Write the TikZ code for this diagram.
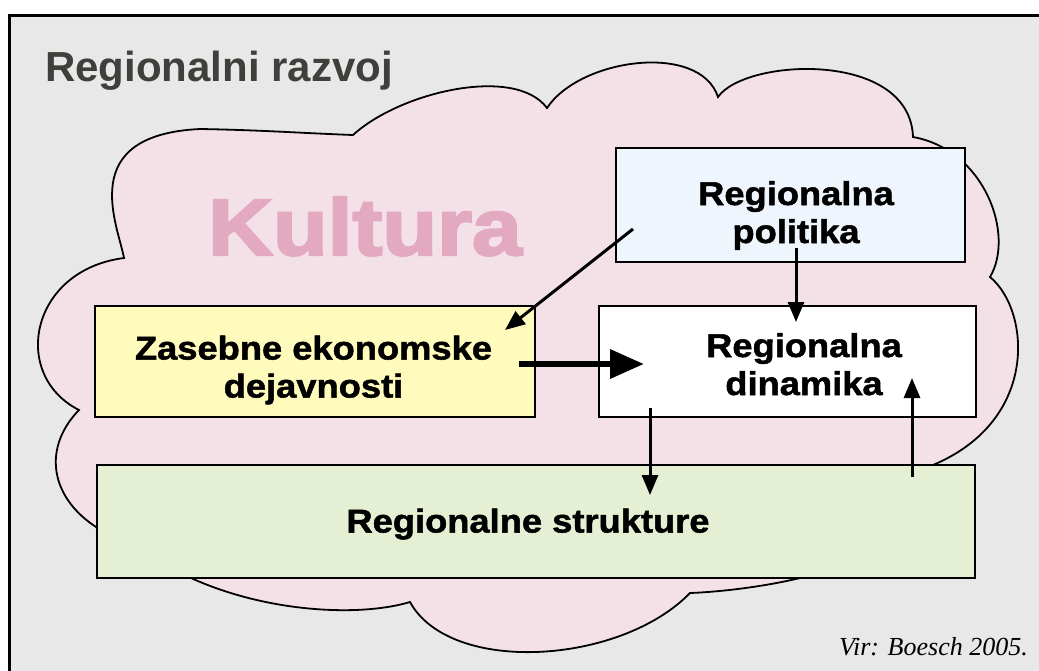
\documentclass[tikz,border=0pt]{standalone}
\usepackage{fontspec}
\setmainfont{Liberation Sans}
\newfontfamily\boxfont{Liberation Sans Bold}[FakeStretch=1.1,FakeBold=1.5]
\newfontfamily\kfont{Liberation Sans Bold}[FakeStretch=1.12,FakeBold=3]
\newfontfamily\virfont{Liberation Serif Italic}
\usetikzlibrary{arrows.meta}
\definecolor{bggray}{HTML}{E8E8E8}
\definecolor{cloudpink}{HTML}{F4E1E7}
\definecolor{kpink}{HTML}{E2A9C1}
\definecolor{boxblue}{HTML}{EEF5FC}
\definecolor{boxyellow}{HTML}{FFFBBC}
\definecolor{boxgreen}{HTML}{E5EFD3}
\definecolor{titlegray}{HTML}{3D403B}
\tikzset{
  boxshape/.style={draw=black, line width=2.2pt, rectangle, inner sep=0pt},
  boxtext/.style={anchor=base, inner sep=0pt, font=\boxfont\fontsize{33}{38}\selectfont},
  thinarrow/.style={line width=3pt, -{Triangle[length=20pt,width=16pt]}},
  thickarrow/.style={line width=6.5pt, -{Triangle[length=34pt,width=28pt]}},
}
\begin{document}
\begin{tikzpicture}[x=1pt,y=-1pt]
\useasboundingbox (0,0) rectangle (1039,670);
\clip (0,0) rectangle (1039,670);
% frame
\fill[bggray] (9,15) rectangle (1045,680);
\draw[line width=3pt] (9,680) -- (9,15) -- (1045,15);
% title
\node[anchor=base west, inner sep=0pt, text=titlegray, font=\bfseries\fontsize{42}{48}\selectfont] (title) at (45,81) {Regionalni razvoj};
% cloud
\filldraw[fill=cloudpink, draw=black, line width=1.8pt, line join=miter]
  (353,135) .. controls (400,92) and (515,65) .. (547,108)
  .. controls (580,58) and (700,42) .. (718,97)
  .. controls (745,58) and (910,50) .. (913,137)
  .. controls (985,150) and (1015,235) .. (990,277)
  .. controls (1030,310) and (1040,420) .. (933,465)
  -- (905,490) -- (840,566)
  .. controls (790,585) and (720,592) .. (690,593)
  .. controls (620,665) and (450,675) .. (410,602)
  .. controls (350,620) and (230,610) .. (150,555)
  -- (110,535)
  .. controls (50,505) and (40,450) .. (79,410)
  .. controls (10,375) and (30,270) .. (124,258)
  .. controls (118,225) and (75,135) .. (200,129)
  .. controls (260,130) and (300,133) .. (353,135)
  -- cycle;
\node[anchor=base west, inner sep=0pt, text=kpink, font=\kfont\fontsize{80}{90}\selectfont] (kultura) at (208,255) {Kultura};
% boxes
\node[boxshape, fill=boxblue, minimum width=349pt, minimum height=114pt] (pol) at (790.5,205) {};
\node[boxshape, fill=white, minimum width=377pt, minimum height=111pt] (din) at (787.5,361.5) {};
\node[boxshape, fill=boxyellow, minimum width=440pt, minimum height=111pt] (zas) at (315,361.5) {};
\node[boxshape, fill=boxgreen, minimum width=878pt, minimum height=113pt] (str) at (536,521.5) {};
% texts
\node[boxtext] (poltext) at (796,205) {\begin{tabular}[t]{@{}c@{}}Regionalna\\politika\end{tabular}};
\node[boxtext] (dintext) at (804,357) {\begin{tabular}[t]{@{}c@{}}Regionalna\\dinamika\end{tabular}};
\node[boxtext] (zastext) at (313.5,359.5) {\begin{tabular}[t]{@{}c@{}}Zasebne ekonomske\\dejavnosti\end{tabular}};
\node[boxtext] (strtext) at (528,532.5) {Regionalne strukture};
\node[anchor=base east, inner sep=0pt, font=\virfont\fontsize{26}{30}\selectfont] (vir) at (1028,655) {Vir: Boesch 2005.};
% arrow end points
\coordinate (a1s) at (633,229);
\coordinate (a1e) at (505,330);
\coordinate (a2s) at (796,248);
\coordinate (a2e) at (796,322);
\coordinate (a3s) at (519,364);
\coordinate (a3e) at (644,364);
\coordinate (a4s) at (650,408);
\coordinate (a4e) at (650,495);
\coordinate (a5s) at (912,477);
\coordinate (a5e) at (912,378);
\draw[thinarrow] (a1s) -- (a1e);
\draw[thinarrow] (a2s) -- (a2e);
\draw[thickarrow] (a3s) -- (a3e);
\draw[thinarrow] (a4s) -- (a4e);
\draw[thinarrow] (a5s) -- (a5e);
\end{tikzpicture}
\end{document}
